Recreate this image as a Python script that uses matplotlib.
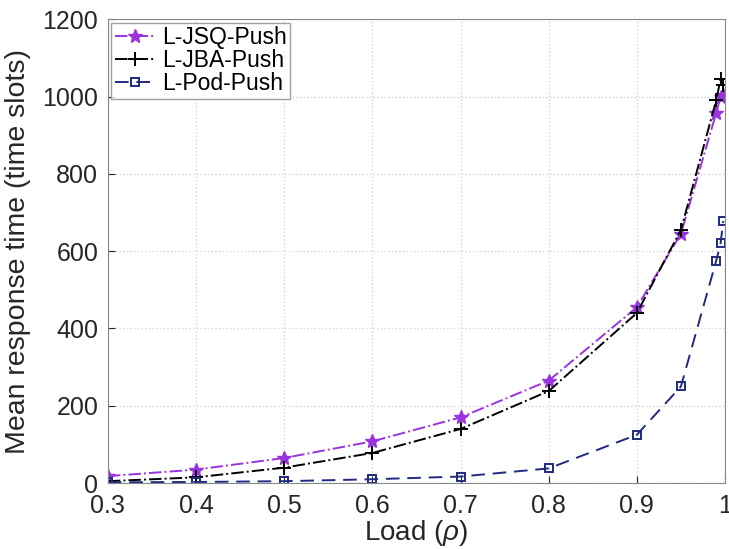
import matplotlib
matplotlib.use("Agg")
import matplotlib.pyplot as plt

plt.rcParams['font.family'] = ['Liberation Sans', 'DejaVu Sans']
plt.rcParams['mathtext.fontset'] = 'custom'
plt.rcParams['mathtext.it'] = 'Liberation Sans:italic'

load = [0.3, 0.4, 0.5, 0.6, 0.7, 0.8, 0.9, 0.95, 0.99, 0.995, 0.998]
jsq = [18, 35, 65, 108, 170, 265, 455, 645, 957, 1000, 1005]
jba = [5, 15, 40, 78, 140, 238, 440, 655, 990, 1045, 1030]
pod = [2, 3, 5, 10, 17, 38, 125, 250, 575, 620, 678]

xticks = [0.3, 0.4, 0.5, 0.6, 0.7, 0.8, 0.9, 1.0]
xticklabels = ['0.3', '0.4', '0.5', '0.6', '0.7', '0.8', '0.9', '1']
yticks = [0, 200, 400, 600, 800, 1000, 1200]

fig = plt.figure(figsize=(7.29, 5.49), dpi=100)
ax = fig.add_axes([0.148, 0.120, 0.8465, 0.845])

ax.plot(load, jsq, linestyle='-.', color='#9933dd', marker='*', markersize=10,
        linewidth=1.4, label='L-JSQ-Push')
ax.plot(load, jba, linestyle='-.', color='black', marker='+', markersize=10,
        markeredgewidth=1.4, linewidth=1.4, label='L-JBA-Push')
ax.plot(load, pod, linestyle=(0, (7, 4)), color='#1f2a80', marker='s', markersize=5.5,
        markerfacecolor='none', markeredgewidth=1.4, linewidth=1.4, label='L-Pod-Push')

ax.set_xlim(0.3, 1.0)
ax.set_ylim(0, 1200)
ax.set_xticks(xticks)
ax.set_xticklabels(xticklabels)
ax.set_yticks(yticks)
ax.tick_params(direction='in', labelsize=18, length=5, colors='#262626')
ax.tick_params(axis='x', pad=8)
ax.tick_params(axis='y', pad=7)
ax.grid(True, linestyle=':', color='#d4d4d4', linewidth=1)
for s in ax.spines.values():
    s.set_color('#888888')

ax.set_xlabel(r'Load ($\rho$)', fontsize=20, color='#262626', labelpad=0)
ax.set_ylabel('Mean response time (time slots)', fontsize=20.5, color='#262626', labelpad=8)

leg = ax.legend(loc='upper left', fontsize=16.5, frameon=True, fancybox=False,
                edgecolor='#888888', borderpad=0.15, labelspacing=0.0,
                handlelength=1.8, handletextpad=0.25, borderaxespad=0.15)
leg.get_frame().set_linewidth(1)

fig.savefig('out.png', dpi=100)
